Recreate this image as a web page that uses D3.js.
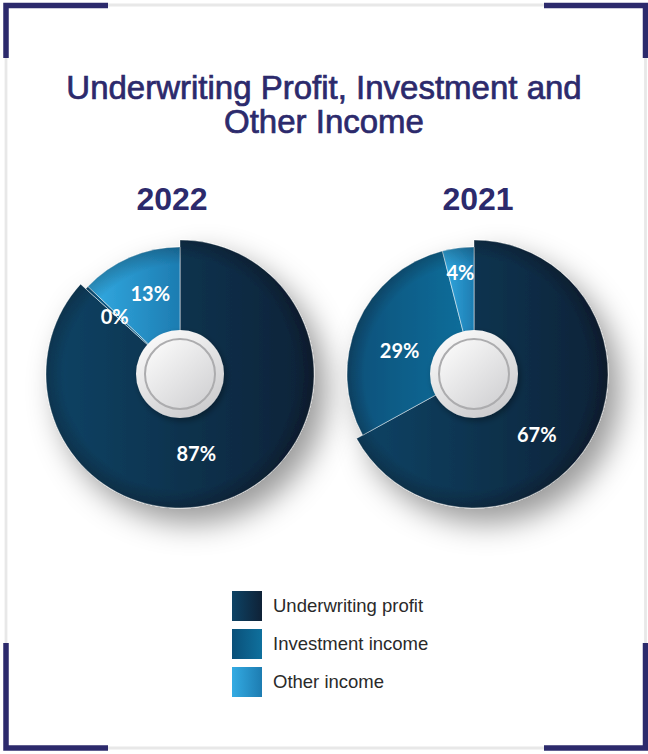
<!DOCTYPE html>
<html>
<head>
<meta charset="utf-8">
<script src="https://cdn.jsdelivr.net/npm/d3@7"></script>
<style>
  html, body { margin: 0; padding: 0; background: #ffffff; }
  svg { display: block; }
</style>
</head>
<body>
<svg id="chart" width="648" height="754"></svg>
<script>
// ---- data ----
const categories = ["Underwriting profit", "Investment income", "Other income"];
const years = ["2022", "2021"];
const values2022 = [86.7, 0.4, 12.9];
const values2021 = [67, 29, 4];
const titleLines = ["Underwriting Profit, Investment and", "Other Income"];

// ---- layout & style ----
const W = 648, H = 754;
const navy = "#2c2a6c";
const sliceColors = [
  ["#0d4365", "#0f2237"],   // underwriting profit: left -> right
  ["#0a5079", "#0f709d"],   // investment income
  ["#33abe3", "#1d7cb1"]    // other income
];
const outerR = [134, 127, 127];
// label placement per slice: [angle shift in degrees, radius]
const pies = [
  { year: years[0], values: values2022, cx: 180, cy: 374, yearX: 172,
    labelPlace: [[12.4, 81.5], [-1.5, 87], [3, 86]] },
  { year: years[1], values: values2021, cx: 474, cy: 374, yearX: 478,
    labelPlace: [[13.6, 87.5], [-5.8, 78], [-0.4, 102]] }
];

const svg = d3.select("#chart");
const defs = svg.append("defs");

// slice gradients (left to right across each slice)
sliceColors.forEach((c, i) => {
  const g = defs.append("linearGradient").attr("id", "slice-" + i)
    .attr("x1", 0).attr("y1", 0).attr("x2", 1).attr("y2", 0);
  g.append("stop").attr("offset", "0%").attr("stop-color", c[0]);
  g.append("stop").attr("offset", "100%").attr("stop-color", c[1]);
});

// darkened rim near the outer edge of each slice
[134, 127].forEach(r => {
  const g = defs.append("radialGradient").attr("id", "rim-" + r)
    .attr("gradientUnits", "userSpaceOnUse")
    .attr("cx", 0).attr("cy", 0).attr("r", r);
  g.append("stop").attr("offset", "0.86").attr("stop-color", "#000").attr("stop-opacity", 0);
  g.append("stop").attr("offset", "1").attr("stop-color", "#000").attr("stop-opacity", 0.22);
});

// soft shadow under each pie
const sh = defs.append("filter").attr("id", "pie-shadow")
  .attr("x", "-40%").attr("y", "-40%").attr("width", "190%").attr("height", "190%");
sh.append("feDropShadow").attr("dx", 12).attr("dy", 15).attr("stdDeviation", 15)
  .attr("flood-color", "#000").attr("flood-opacity", 0.4);

const ks = defs.append("filter").attr("id", "knob-shadow")
  .attr("x", "-40%").attr("y", "-40%").attr("width", "180%").attr("height", "180%");
ks.append("feDropShadow").attr("dx", 2).attr("dy", 3).attr("stdDeviation", 3)
  .attr("flood-color", "#000").attr("flood-opacity", 0.35);

// knob gradients
const kOuter = defs.append("linearGradient").attr("id", "knob-outer")
  .attr("x1", 0.2).attr("y1", 0).attr("x2", 0.8).attr("y2", 1);
kOuter.append("stop").attr("offset", "0%").attr("stop-color", "#fbfbfb");
kOuter.append("stop").attr("offset", "100%").attr("stop-color", "#c9c9cb");
const kInner = defs.append("linearGradient").attr("id", "knob-inner")
  .attr("x1", 0.15).attr("y1", 0.1).attr("x2", 0.85).attr("y2", 0.9);
kInner.append("stop").attr("offset", "0%").attr("stop-color", "#f8f8f8");
kInner.append("stop").attr("offset", "100%").attr("stop-color", "#d3d3d5");

const legendGrad = sliceColors.map((c, i) => "slice-" + i);

// ---- frame ----
const frame = svg.append("g");
const gray = "#e8e8e8";
frame.append("path").attr("d", `M108,5 H544 M6,58 V643 M108,748 H544 M645.5,58 V643`)
  .attr("fill", "none").attr("stroke", gray).attr("stroke-width", 2.8);
const brackets = [
  "M6,58 V5.5 H108",
  "M544,5.5 H645.5 V58",
  "M6,643 V748 H108",
  "M544,748 H645.5 V643"
];
frame.selectAll("path.br").data(brackets).join("path").attr("class", "br")
  .attr("d", d => d).attr("fill", "none").attr("stroke", navy)
  .attr("stroke-width", 5.5).attr("stroke-linejoin", "miter");

// ---- title ----
svg.append("g").selectAll("text").data(titleLines).join("text")
  .attr("x", W / 2).attr("y", (d, i) => 99 + i * 34)
  .attr("text-anchor", "middle")
  .attr("font-family", "'Liberation Sans', Arial, Helvetica, sans-serif")
  .attr("font-size", 33).attr("fill", navy)
  .attr("stroke", navy).attr("stroke-width", 0.7)
  .text(d => d);

// ---- pies ----
const pie = d3.pie().sort(null).value(d => d);
const fmt = v => d3.format(".0f")(v) + "%";

pies.forEach(p => {
  const arcs = pie(p.values);

  svg.append("text")
    .attr("x", p.yearX).attr("y", 210)
    .attr("text-anchor", "middle")
    .attr("font-family", "'Liberation Sans', Arial, Helvetica, sans-serif")
    .attr("font-weight", "bold").attr("font-size", 32).attr("fill", navy)
    .text(p.year);

  const g = svg.append("g").attr("transform", `translate(${p.cx},${p.cy})`);
  const body = g.append("g").attr("filter", "url(#pie-shadow)");

  const arcFor = i => d3.arc().innerRadius(0).outerRadius(outerR[i]);

  body.selectAll("path.slice").data(arcs).join("path").attr("class", "slice")
    .attr("d", (d, i) => arcFor(i)(d))
    .attr("fill", (d, i) => `url(#slice-${i})`)
    .attr("stroke", "#ffffff").attr("stroke-width", 0.7).attr("stroke-opacity", 0.7);

  body.selectAll("path.rim").data(arcs).join("path").attr("class", "rim")
    .attr("d", (d, i) => arcFor(i)(d))
    .attr("fill", (d, i) => `url(#rim-${outerR[i]})`);

  // value labels
  g.selectAll("text.val").data(arcs).join("text").attr("class", "val")
    .attr("transform", (d, i) => {
      const [shift, r] = p.labelPlace[i];
      const a = (d.startAngle + d.endAngle) / 2 + shift * Math.PI / 180;
      return `translate(${r * Math.sin(a)},${-r * Math.cos(a)})`;
    })
    .attr("text-anchor", "middle").attr("dy", "0.36em")
    .attr("font-family", "Lato, 'Open Sans', sans-serif")
    .attr("font-weight", 700).attr("font-size", 20).attr("fill", "#ffffff")
    .text(d => fmt(d.data));

  // centre knob
  const knob = g.append("g");
  knob.append("circle").attr("r", 44).attr("fill", "url(#knob-outer)")
    .attr("filter", "url(#knob-shadow)");
  knob.append("circle").attr("r", 35).attr("fill", "url(#knob-inner)")
    .attr("stroke", "#acacae").attr("stroke-width", 2);
});

// ---- legend ----
const legend = svg.append("g").attr("transform", "translate(232,591)");
const items = legend.selectAll("g").data(categories).join("g")
  .attr("transform", (d, i) => `translate(0,${i * 38})`);
items.append("rect").attr("width", 30).attr("height", 30)
  .attr("fill", (d, i) => `url(#${legendGrad[i]})`);
items.append("text").attr("x", 41).attr("y", 21)
  .attr("font-family", "'Liberation Sans', Arial, Helvetica, sans-serif")
  .attr("font-size", 18.5).attr("fill", "#2a2a2a")
  .text(d => d);
</script>
</body>
</html>
